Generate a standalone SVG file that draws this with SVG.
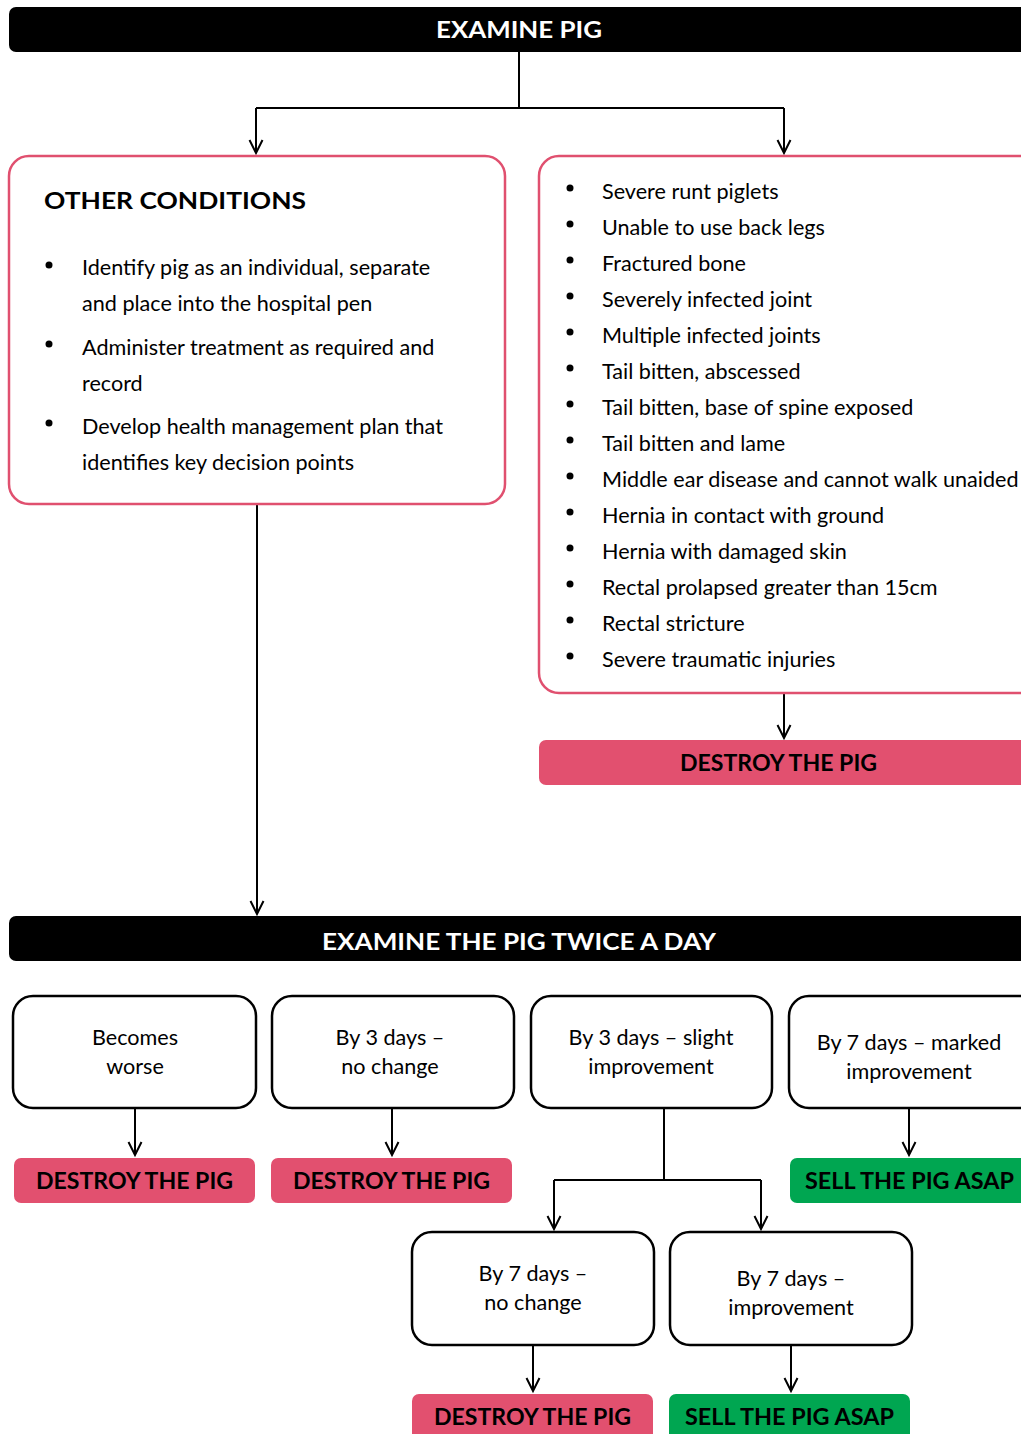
<svg xmlns="http://www.w3.org/2000/svg" width="1021" height="1434" viewBox="0 0 1021 1434">
<defs>
<marker id="arr" markerUnits="userSpaceOnUse" markerWidth="20" markerHeight="20" viewBox="-16 -10 20 20" refX="0" refY="0" orient="auto" overflow="visible">
<path d="M-13,-6.5 L0,0 L-13,6.5" fill="none" stroke="#000" stroke-width="2"/>
</marker>
<style>
.bar{fill:#000}
.pinkbox{fill:#fff;stroke:#e0506f;stroke-width:2.5}
.box{fill:#fff;stroke:#000;stroke-width:2.5}
.destroy{fill:#e2506f}
.sell{fill:#00a651}
.t{font-family:Lato,"Open Sans","Liberation Sans",sans-serif;font-size:21.6px;fill:#000}
.c{text-anchor:middle}
.hb{font-family:Lato,"Open Sans","Liberation Sans",sans-serif;font-size:23px;font-weight:bold}
.wh{fill:#fff}
.conn path{fill:none;stroke:#000;stroke-width:2}
</style>
</defs>
<rect width="1021" height="1434" fill="#fff"/>
<g class="conn">
<path d="M519,52 V108"/>
<path d="M256,108 H784"/>
<path d="M256,108 V153" marker-end="url(#arr)"/>
<path d="M784,108 V153" marker-end="url(#arr)"/>
<path d="M257,505 V914" marker-end="url(#arr)"/>
<path d="M784,694 V738" marker-end="url(#arr)"/>
<path d="M135,1109 V1155" marker-end="url(#arr)"/>
<path d="M392,1109 V1155" marker-end="url(#arr)"/>
<path d="M909,1109 V1155" marker-end="url(#arr)"/>
<path d="M664,1109 V1180"/>
<path d="M554,1180 H761"/>
<path d="M554,1180 V1229" marker-end="url(#arr)"/>
<path d="M761,1180 V1229" marker-end="url(#arr)"/>
<path d="M533,1346 V1391" marker-end="url(#arr)"/>
<path d="M791,1346 V1391" marker-end="url(#arr)"/>
</g>
<g id="examine-pig">
<rect class="bar" x="9" y="7" width="1030" height="45" rx="7"/>
<text class="hb wh c" x="519" y="38" textLength="166" lengthAdjust="spacingAndGlyphs">EXAMINE PIG</text>
</g>
<g id="other-conditions">
<rect class="pinkbox" x="9" y="156" width="496" height="348" rx="20"/>
<text class="hb" x="44" y="209" textLength="262" lengthAdjust="spacingAndGlyphs">OTHER CONDITIONS</text>
<g class="t">
<circle cx="49" cy="265" r="3.5"/>
<text x="82" y="275">Identify pig as an individual, separate</text>
<text x="82" y="311">and place into the hospital pen</text>
<circle cx="49" cy="344" r="3.5"/>
<text x="82" y="355">Administer treatment as required and</text>
<text x="82" y="391">record</text>
<circle cx="49" cy="423" r="3.5"/>
<text x="82" y="434">Develop health management plan that</text>
<text x="82" y="470">identifies key decision points</text>
</g>
</g>
<g id="severe-conditions">
<rect class="pinkbox" x="539" y="156" width="500" height="537" rx="20"/>
<g class="t">
<circle cx="570" cy="188" r="3.5"/><text x="602" y="199">Severe runt piglets</text>
<circle cx="570" cy="224" r="3.5"/><text x="602" y="235">Unable to use back legs</text>
<circle cx="570" cy="260" r="3.5"/><text x="602" y="271">Fractured bone</text>
<circle cx="570" cy="296" r="3.5"/><text x="602" y="307">Severely infected joint</text>
<circle cx="570" cy="332" r="3.5"/><text x="602" y="343">Multiple infected joints</text>
<circle cx="570" cy="368" r="3.5"/><text x="602" y="379">Tail bitten, abscessed</text>
<circle cx="570" cy="404" r="3.5"/><text x="602" y="415">Tail bitten, base of spine exposed</text>
<circle cx="570" cy="440" r="3.5"/><text x="602" y="451">Tail bitten and lame</text>
<circle cx="570" cy="476" r="3.5"/><text x="602" y="487">Middle ear disease and cannot walk unaided</text>
<circle cx="570" cy="512" r="3.5"/><text x="602" y="523">Hernia in contact with ground</text>
<circle cx="570" cy="548" r="3.5"/><text x="602" y="559">Hernia with damaged skin</text>
<circle cx="570" cy="584" r="3.5"/><text x="602" y="595">Rectal prolapsed greater than 15cm</text>
<circle cx="570" cy="620" r="3.5"/><text x="602" y="631">Rectal stricture</text>
<circle cx="570" cy="656" r="3.5"/><text x="602" y="667">Severe traumatic injuries</text>
</g>
</g>
<g id="destroy-1">
<rect class="destroy" x="539" y="740" width="500" height="45" rx="7"/>
<text class="hb c" x="778.5" y="771" textLength="197" lengthAdjust="spacingAndGlyphs">DESTROY THE PIG</text>
</g>
<g id="examine-twice">
<rect class="bar" x="9" y="916" width="1030" height="45" rx="7"/>
<text class="hb wh c" x="519" y="950" textLength="394" lengthAdjust="spacingAndGlyphs">EXAMINE THE PIG TWICE A DAY</text>
</g>
<g id="becomes-worse">
<rect class="box" x="13" y="996" width="243" height="112" rx="20"/>
<text class="t c" x="135" y="1045">Becomes</text>
<text class="t c" x="135" y="1074">worse</text>
</g>
<g id="day3-no-change">
<rect class="box" x="272" y="996" width="242" height="112" rx="20"/>
<text class="t c" x="390" y="1045">By 3 days –</text>
<text class="t c" x="390" y="1074">no change</text>
</g>
<g id="day3-slight">
<rect class="box" x="531" y="996" width="241" height="112" rx="20"/>
<text class="t c" x="651" y="1045">By 3 days – slight</text>
<text class="t c" x="651" y="1074">improvement</text>
</g>
<g id="day7-marked">
<rect class="box" x="789" y="996" width="250" height="112" rx="20"/>
<text class="t c" x="909" y="1050">By 7 days – marked</text>
<text class="t c" x="909" y="1079">improvement</text>
</g>
<g id="destroy-2">
<rect class="destroy" x="14" y="1158" width="241" height="45" rx="7"/>
<text class="hb c" x="134.5" y="1189" textLength="197" lengthAdjust="spacingAndGlyphs">DESTROY THE PIG</text>
</g>
<g id="destroy-3">
<rect class="destroy" x="271" y="1158" width="241" height="45" rx="7"/>
<text class="hb c" x="391.5" y="1189" textLength="197" lengthAdjust="spacingAndGlyphs">DESTROY THE PIG</text>
</g>
<g id="sell-1">
<rect class="sell" x="790" y="1158" width="250" height="45" rx="7"/>
<text class="hb c" x="909.5" y="1189" textLength="209" lengthAdjust="spacingAndGlyphs">SELL THE PIG ASAP</text>
</g>
<g id="day7-no-change">
<rect class="box" x="412" y="1232" width="242" height="113" rx="20"/>
<text class="t c" x="533" y="1281">By 7 days –</text>
<text class="t c" x="533" y="1310">no change</text>
</g>
<g id="day7-improvement">
<rect class="box" x="670" y="1232" width="242" height="113" rx="20"/>
<text class="t c" x="791" y="1286">By 7 days –</text>
<text class="t c" x="791" y="1315">improvement</text>
</g>
<g id="destroy-4">
<rect class="destroy" x="412" y="1394" width="241" height="50" rx="7"/>
<text class="hb c" x="532.5" y="1425" textLength="197" lengthAdjust="spacingAndGlyphs">DESTROY THE PIG</text>
</g>
<g id="sell-2">
<rect class="sell" x="669" y="1394" width="241" height="50" rx="7"/>
<text class="hb c" x="789.5" y="1425" textLength="209" lengthAdjust="spacingAndGlyphs">SELL THE PIG ASAP</text>
</g>
</svg>
